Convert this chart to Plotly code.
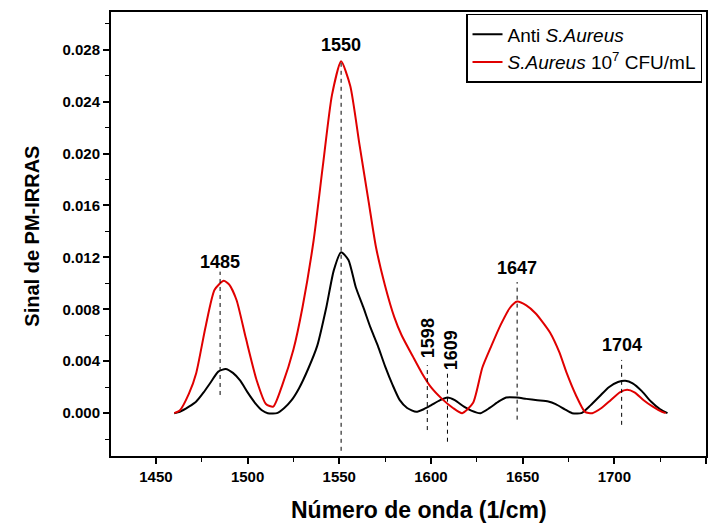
import plotly.graph_objects as go

# Anti S.Aureus (black)
anti_x = [1460, 1463, 1468, 1472, 1476, 1480, 1484, 1488, 1492, 1496, 1500, 1504, 1508,
          1511, 1516, 1520, 1524, 1528, 1533, 1538, 1543, 1547, 1551, 1555, 1559, 1563,
          1567, 1571, 1575, 1579, 1583, 1587, 1592, 1596, 1600, 1605, 1609, 1613, 1618,
          1622, 1627, 1632, 1637, 1641, 1647, 1652, 1658, 1664, 1668, 1673, 1677, 1682,
          1687, 1692, 1697, 1702, 1706, 1710, 1715, 1720, 1725, 1729]
anti_y = [0.0000, 0.0001, 0.0005, 0.0009, 0.0016, 0.0024, 0.0032, 0.0034, 0.0031, 0.0025,
          0.0016, 0.0008, 0.0002, 0.0000, 0.0000, 0.0004, 0.0010, 0.0019, 0.0034, 0.0052,
          0.0082, 0.0110, 0.0124, 0.0118, 0.0097, 0.0082, 0.0066, 0.0052, 0.0036, 0.0022,
          0.0010, 0.0004, 0.0001, 0.0003, 0.0006, 0.0010, 0.0012, 0.0010, 0.0005, 0.0002,
          0.0000, 0.0004, 0.0009, 0.0012, 0.0012, 0.0011, 0.0010, 0.0009, 0.0007, 0.0003,
          0.0000, 0.0000, 0.0006, 0.0013, 0.0020, 0.0024, 0.0025, 0.0023, 0.0017, 0.0009,
          0.0003, 0.0000]

# S.Aureus 10^7 CFU/mL (red)
sa_x = [1460, 1463, 1468, 1472, 1477, 1482, 1487, 1490, 1494, 1499, 1505, 1510, 1514,
        1519, 1525, 1530, 1536, 1541, 1546, 1551, 1556, 1561, 1566, 1570, 1575, 1580,
        1584, 1590, 1595, 1600, 1606, 1612, 1617, 1623, 1628, 1633, 1638, 1643, 1647,
        1652, 1657, 1661, 1665, 1670, 1674, 1679, 1684, 1688, 1693, 1698, 1703, 1707,
        1711, 1716, 1721, 1726, 1728]
sa_y = [0.0000, 0.0002, 0.0015, 0.0031, 0.0066, 0.0095, 0.0102, 0.0099, 0.0087, 0.0058,
        0.0025, 0.0007, 0.0005, 0.0022, 0.0049, 0.0082, 0.0133, 0.0190, 0.0245, 0.0271,
        0.0252, 0.0207, 0.0163, 0.0128, 0.0098, 0.0074, 0.0060, 0.0044, 0.0031, 0.0020,
        0.0011, 0.0004, 0.0000, 0.0008, 0.0035, 0.0052, 0.0068, 0.0081, 0.0086, 0.0083,
        0.0077, 0.0070, 0.0062, 0.0047, 0.0031, 0.0014, 0.0001, 0.0000, 0.0004, 0.0010,
        0.0016, 0.0018, 0.0016, 0.0010, 0.0005, 0.0001, 0.0000]

# Peak labels
peak_pos = [1485, 1551, 1598, 1609, 1647, 1704]
peak_text = ["1485", "1550", "1598", "1609", "1647", "1704"]
label_x = [1485, 1551, 1598.4, 1611, 1647, 1704]
label_y = [0.01164, 0.02836, 0.00578, 0.00486, 0.01118, 0.00524]
label_rot = [0, 0, -90, -90, 0, 0]
line_top = [0.0109, 0.0272, 0.0037, 0.0032, 0.0101, 0.0041]
line_bot = [0.0014, -0.0029, -0.0013, -0.0022, -0.0005, -0.0009]

fig = go.Figure()
fig.add_trace(go.Scatter(x=anti_x, y=anti_y, mode="lines",
                         line=dict(color="black", width=2, shape="spline", smoothing=0.6),
                         name="Anti <i>S.Aureus</i>"))
fig.add_trace(go.Scatter(x=sa_x, y=sa_y, mode="lines",
                         line=dict(color="#e00000", width=2, shape="spline", smoothing=0.6),
                         name="<i>S.Aureus</i> 10<sup>7</sup> CFU/mL"))

for px, t, b in zip(peak_pos, line_top, line_bot):
    fig.add_shape(type="line", xref="x", yref="y", x0=px, x1=px, y0=b, y1=t,
                  line=dict(color="black", width=1, dash="4px,4px"), layer="above")

for lx, ly, txt, rot in zip(label_x, label_y, peak_text, label_rot):
    fig.add_annotation(x=lx, y=ly, xref="x", yref="y", text="<b>%s</b>" % txt,
                       showarrow=False, textangle=rot,
                       font=dict(family="Liberation Sans, Arial, sans-serif", size=18, color="black"))

# axis titles
fig.add_annotation(x=0.517, y=-0.1216, xref="paper", yref="paper",
                   text="<b>Número de onda (1/cm)</b>", showarrow=False,
                   xanchor="center", yanchor="middle",
                   font=dict(family="Liberation Sans, Arial, sans-serif", size=23, color="black"))
fig.add_annotation(x=-0.1320, y=0.495, xref="paper", yref="paper",
                   text="<b>Sinal de PM-IRRAS</b>", showarrow=False, textangle=-90,
                   xanchor="center", yanchor="middle",
                   font=dict(family="Liberation Sans, Arial, sans-serif", size=20, color="black"))

tickfont = dict(family="Liberation Sans, Arial, sans-serif",
                size=15, color="black", weight="bold")

fig.update_layout(
    width=700, height=516,
    margin=dict(l=103, r=2, t=4, b=68),
    paper_bgcolor="white", plot_bgcolor="white",
    showlegend=True,
    legend=dict(x=0.9933, y=0.9955, xanchor="right", yanchor="top",
                bgcolor="white", bordercolor="black", borderwidth=1.5,
                font=dict(family="Liberation Sans, Arial, sans-serif", size=19, color="black"),
                tracegroupgap=0),
    xaxis=dict(range=[1425.5, 1750], tick0=1450, dtick=50, automargin=False,
               showgrid=False, zeroline=False,
               showline=True, linecolor="black", linewidth=2, mirror=True,
               ticks="outside", ticklen=6, tickwidth=1.5, tickcolor="black",
               minor=dict(ticks="outside", ticklen=4, tickwidth=1, tickcolor="black", dtick=25, tick0=1425),
               tickfont=tickfont),
    yaxis=dict(range=[-0.0033, 0.0309], tick0=0, dtick=0.004, tickformat=".3f", automargin=False,
               showgrid=False, zeroline=False,
               showline=True, linecolor="black", linewidth=2, mirror=True,
               ticks="outside", ticklen=6, tickwidth=1.5, tickcolor="black",
               minor=dict(ticks="outside", ticklen=4, tickwidth=1, tickcolor="black", dtick=0.002, tick0=0),
               tickfont=tickfont),
)

fig.write_html("out.html")
